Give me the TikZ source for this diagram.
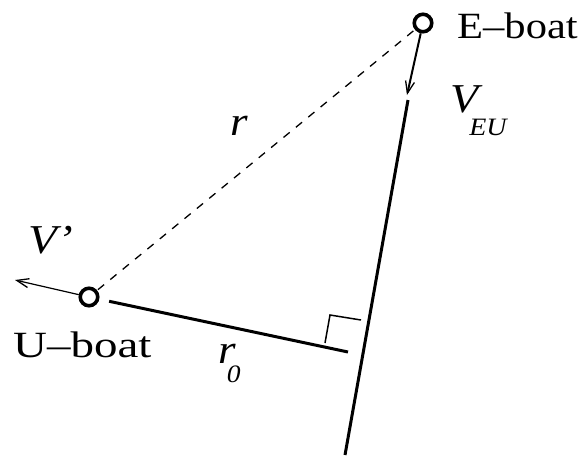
\documentclass[tikz,border=0pt]{standalone}
\usepackage{fontspec}
\setmainfont{Liberation Serif}
\usetikzlibrary{arrows.meta}
\newcommand{\subtxt}[1]{{\fontsize{25}{28}\selectfont #1}}
\begin{document}
\begin{tikzpicture}[x=1pt,y=-1pt,
  boat/.style={circle,draw,line width=3.6pt,minimum size=17.5pt,inner sep=0pt},
  lab/.style={anchor=base west,inner sep=0pt,font=\fontsize{37}{40}\selectfont},
  big/.style={anchor=base west,inner sep=0pt,font=\fontsize{41}{44}\selectfont\itshape},
  thick line/.style={line width=3pt},
  barb/.style={-{Straight Barb[length=12pt,width=9pt,line width=1.3pt]}}]
\useasboundingbox (0,0) rectangle (585,458);
% boats
\node[boat] (E) at (423,23) {};
\node[boat] (U) at (89,297) {};
% coordinates
\coordinate (vtip) at (407,95);
\coordinate (mtop) at (408,100);
\coordinate (mbot) at (345,455);
\coordinate (foot) at (348,352);
\coordinate (vp) at (15,280);
\coordinate (ra1) at (325,343);
\coordinate (ra2) at (330,315);
\coordinate (ra3) at (361,320);
% connectors
\draw[dashed,line width=1.3pt,dash pattern=on 8pt off 8pt,shorten <=1pt,shorten >=1pt] (U) -- (E);
\draw[barb,line width=2pt] (E) -- (vtip);
\draw[thick line] (mtop) -- (mbot);
\draw[thick line,shorten <=10pt] (U) -- (foot);
\draw[line width=1.5pt] (ra1) -- (ra2) -- (ra3);
\draw[barb,line width=1.2pt] (U) -- (vp);
% labels
\node[lab] (Elab) at (457,38) {\scalebox{1.15}[1]{E–boat}};
\node[lab] (Ulab) at (13,357) {\scalebox{1.27}[1]{U–boat}};
\node[big] (V) at (450,112) {\scalebox{1.12}[1]{V\kern-8pt\raisebox{-23pt}{\subtxt{EU}}}};
\node[big] (r) at (230,135) {\scalebox{1.1}[1]{r}};
\node[big] (r0) at (218,363) {\scalebox{1.1}[1]{r\kern-8pt\raisebox{-19pt}{\subtxt{0}}}};
\node[big] (Vp) at (28,253) {\scalebox{1.15}[1]{V’}};
\end{tikzpicture}
\end{document}
